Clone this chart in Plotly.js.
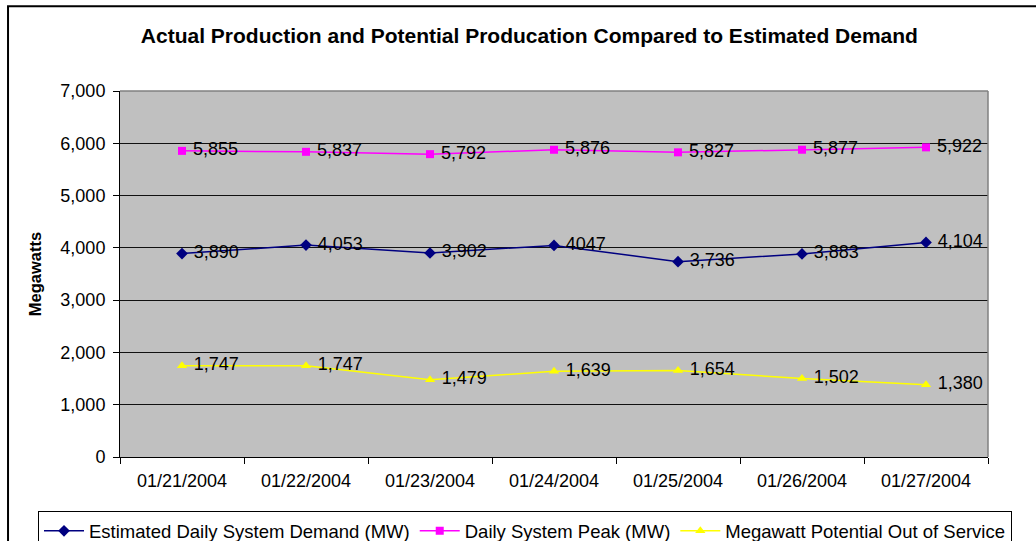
<!DOCTYPE html>
<html>
<head>
<meta charset="utf-8">
<script src="https://cdn.plot.ly/plotly-3.0.1.min.js"></script>
<style>html,body{margin:0;padding:0;background:#fff;}#chart{width:1036px;height:541px;}</style>
</head>
<body>
<div id="chart"></div>
<script>
var dates = ["01/21/2004","01/22/2004","01/23/2004","01/24/2004","01/25/2004","01/26/2004","01/27/2004"];
var demand = [3890, 4053, 3902, 4047, 3736, 3883, 4104];
var demandLabels = ["3,890","4,053","3,902","4047","3,736","3,883","4,104"];
var peak = [5855, 5837, 5792, 5876, 5827, 5877, 5922];
var peakLabels = ["5,855","5,837","5,792","5,876","5,827","5,877","5,922"];
var outage = [1747, 1747, 1479, 1639, 1654, 1502, 1380];
var outageLabels = ["1,747","1,747","1,479","1,639","1,654","1,502","1,380"];
var yTicks = [0,1000,2000,3000,4000,5000,6000,7000];
var yTickLabels = ["0","1,000","2,000","3,000","4,000","5,000","6,000","7,000"];

var FONT = "Liberation Sans, Arial, sans-serif";
var labelFont = {family: FONT, size: 18, color: "#000"};

function series(name, y, labels, color, symbol, size) {
  return {
    type: "scatter", mode: "lines+markers+text", name: name,
    x: dates, y: y, text: labels, texttemplate: "\u00a0%{text}", textposition: "middle right",
    textfont: labelFont, cliponaxis: false,
    line: {color: color, width: 1.5},
    marker: {color: color, symbol: symbol, size: size},
    hoverinfo: "x+y"
  };
}

var data = [
  series("Estimated Daily System Demand (MW)", demand, demandLabels, "#000080", "diamond", 9),
  series("Daily System Peak (MW)", peak, peakLabels, "#FF00FF", "square", 8),
  series("Megawatt Potential Out of Service", outage, outageLabels, "#FFFF00", "triangle-up", 9)
];

var layout = {
  width: 1036, height: 541,
  margin: {l: 120, r: 48, t: 91, b: 84, autoexpand: false},
  paper_bgcolor: "#fff", plot_bgcolor: "#C0C0C0",
  font: {family: FONT, color: "#000"},
  showlegend: true,
  title: {
    text: "<b>Actual Production and Potential Producation Compared to Estimated Demand</b>",
    font: {family: FONT, size: 21, color: "#000"},
    xref: "container", yref: "container", x: 0.511, y: 0.935, xanchor: "center", yanchor: "middle"
  },
  xaxis: {
    type: "category", range: [-0.5, 6.5], tickson: "boundaries",
    ticks: "outside", ticklen: 6, tickcolor: "#000", showline: true, linecolor: "#000", linewidth: 1,
    showgrid: false, tickfont: {family: FONT, size: 18, color: "#000"}, ticklabelstandoff: 7,
    fixedrange: true
  },
  yaxis: {
    range: [0, 7000], tickvals: yTicks, ticktext: yTickLabels,
    ticks: "outside", ticklen: 6, tickcolor: "#000", showline: true, linecolor: "#000", linewidth: 1,
    showgrid: true, gridcolor: "#111", gridwidth: 1, zeroline: false,
    tickfont: {family: FONT, size: 18, color: "#000"}, ticklabelstandoff: 4,
    title: {text: "<b>Megawatts</b>", font: {family: FONT, size: 16.5, color: "#000"}, standoff: 14},
    fixedrange: true
  },
  legend: {
    orientation: "h", xref: "paper", yref: "paper",
    x: (38 - 120) / 868, y: (456.7 - 511) / 365.7, xanchor: "left", yanchor: "top",
    bgcolor: "#fff", bordercolor: "#000", borderwidth: 1,
    font: {family: FONT, size: 18.5, color: "#000"}, itemwidth: 40, tracegroupgap: 0
  },
  shapes: [
    {type: "line", xref: "paper", yref: "paper", x0: 0, x1: 1, y0: 1, y1: 1, line: {color: "#808080", width: 1.5}},
    {type: "line", xref: "paper", yref: "paper", x0: 1, x1: 1, y0: 0, y1: 1, line: {color: "#808080", width: 1.5}},
    {type: "rect", xref: "paper", yref: "paper", x0: -0.129, x1: 1.08, y0: -0.3, y1: 1.2315, line: {color: "#000", width: 2}, fillcolor: "rgba(0,0,0,0)", layer: "above"}
  ]
};

Plotly.newPlot("chart", data, layout, {displayModeBar: false, staticPlot: true});
</script>
</body>
</html>
